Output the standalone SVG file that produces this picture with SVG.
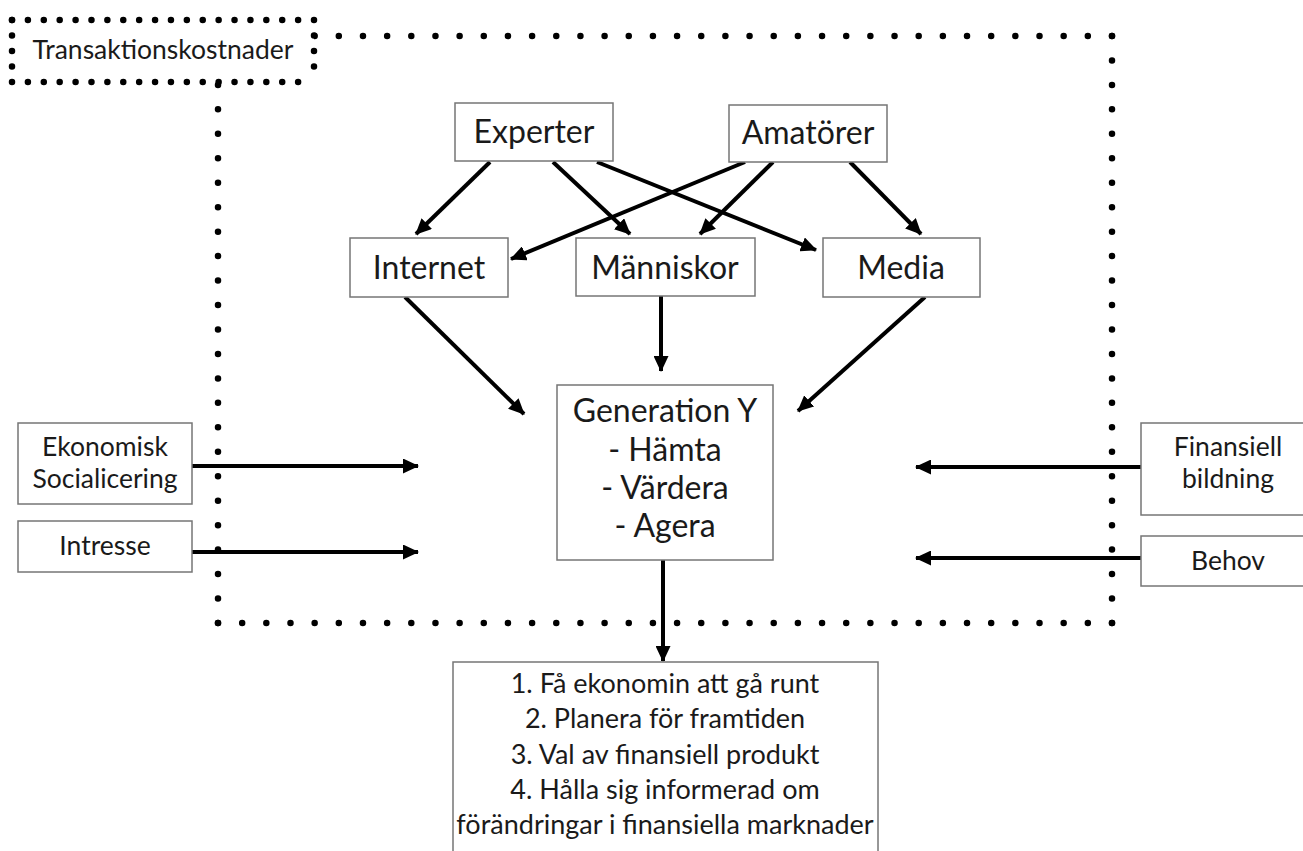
<svg xmlns="http://www.w3.org/2000/svg" width="1303" height="851" viewBox="0 0 1303 851">
<style>
.box{fill:#fff;stroke:#767676;stroke-width:1.5}
.t{font-family:Lato,"Open Sans","Liberation Sans",sans-serif;fill:#1a1a1a;text-anchor:middle}
.big{font-size:32px}
.mid{font-size:27px}
.sm{font-size:26.5px}
.dot{fill:none;stroke:#000;stroke-width:6.5;stroke-linecap:round}
.arr{fill:none;stroke:#000;stroke-width:4;marker-end:url(#ah)}
</style>
<defs>
<marker id="ah" markerUnits="userSpaceOnUse" markerWidth="17" markerHeight="15" refX="15" refY="7.5" orient="auto">
<path d="M0,0 L16,7.5 L0,15 Z" fill="#000"/>
</marker>
</defs>
<rect width="1303" height="851" fill="#fff"/>
<g id="frame">
<line class="dot" x1="218" y1="36" x2="1112" y2="36" stroke-dasharray="0 24.162"/>
<line class="dot" x1="1112" y1="36" x2="1112" y2="623" stroke-dasharray="0 24.458"/>
<line class="dot" x1="218" y1="623" x2="1112" y2="623" stroke-dasharray="0 24.162"/>
<line class="dot" x1="218" y1="36" x2="218" y2="623" stroke-dasharray="0 24.458"/>
</g>
<g id="label">
<rect x="12" y="20" width="302" height="62" fill="#fff"/>
<line class="dot" x1="12" y1="20" x2="314" y2="20" stroke-dasharray="0 15.895"/>
<line class="dot" x1="12" y1="82" x2="314" y2="82" stroke-dasharray="0 15.895"/>
<line class="dot" x1="12" y1="20" x2="12" y2="82" stroke-dasharray="0 15.5"/>
<line class="dot" x1="314" y1="20" x2="314" y2="82" stroke-dasharray="0 15.5"/>
<text class="t sm" x="163" y="59">Transaktionskostnader</text>
</g>
<g id="connectors">
<line class="arr" x1="490" y1="162" x2="416" y2="234"/>
<line class="arr" x1="553" y1="162" x2="630" y2="234"/>
<line class="arr" x1="597" y1="162" x2="816" y2="250"/>
<line class="arr" x1="745" y1="162" x2="511" y2="259"/>
<line class="arr" x1="773" y1="162" x2="700" y2="234"/>
<line class="arr" x1="850" y1="162" x2="921" y2="234"/>
<line class="arr" x1="405" y1="297" x2="524" y2="414"/>
<line class="arr" x1="661" y1="296" x2="661" y2="371"/>
<line class="arr" x1="925" y1="297" x2="798" y2="411"/>
<line class="arr" x1="663" y1="560" x2="663" y2="661"/>
<line class="arr" x1="192" y1="466" x2="418" y2="466"/>
<line class="arr" x1="192" y1="552" x2="418" y2="552"/>
<line class="arr" x1="1141" y1="467" x2="916" y2="467"/>
<line class="arr" x1="1141" y1="558" x2="916" y2="558"/>
</g>
<g id="experter"><rect class="box" x="455" y="103" width="158" height="58"/><text class="t big" x="534" y="143">Experter</text></g>
<g id="amatorer"><rect class="box" x="729" y="105" width="158" height="57"/><text class="t big" x="808" y="144">Amatörer</text></g>
<g id="internet"><rect class="box" x="350" y="238" width="158" height="59"/><text class="t big" x="429" y="279">Internet</text></g>
<g id="manniskor"><rect class="box" x="576" y="238" width="179" height="58"/><text class="t big" x="665" y="279">Människor</text></g>
<g id="media"><rect class="box" x="823" y="238" width="157" height="59"/><text class="t big" x="901" y="279">Media</text></g>
<g id="generation"><rect class="box" x="557" y="385" width="216" height="175"/>
<text class="t big" x="665" y="422">Generation Y</text>
<text class="t big" x="665" y="461">- Hämta</text>
<text class="t big" x="665" y="499">- Värdera</text>
<text class="t big" x="665" y="537">- Agera</text></g>
<g id="ekonomisk"><rect class="box" x="18" y="423" width="174" height="81"/>
<text class="t sm" x="105" y="456">Ekonomisk</text>
<text class="t sm" x="105" y="488">Socialicering</text></g>
<g id="intresse"><rect class="box" x="18" y="521" width="174" height="51"/><text class="t sm" x="105" y="555">Intresse</text></g>
<g id="finansiell"><rect class="box" x="1141" y="423" width="174" height="92"/>
<text class="t sm" x="1228" y="456">Finansiell</text>
<text class="t sm" x="1228" y="488">bildning</text></g>
<g id="behov"><rect class="box" x="1141" y="536" width="174" height="50"/><text class="t sm" x="1228" y="570">Behov</text></g>
<g id="result"><rect class="box" x="453" y="662" width="425" height="200"/>
<text class="t mid" x="665" y="693">1. Få ekonomin att gå runt</text>
<text class="t mid" x="665" y="728">2. Planera för framtiden</text>
<text class="t mid" x="665" y="764">3. Val av finansiell produkt</text>
<text class="t mid" x="665" y="799">4. Hålla sig informerad om</text>
<text class="t mid" x="665" y="834">förändringar i finansiella marknader</text></g>
</svg>
